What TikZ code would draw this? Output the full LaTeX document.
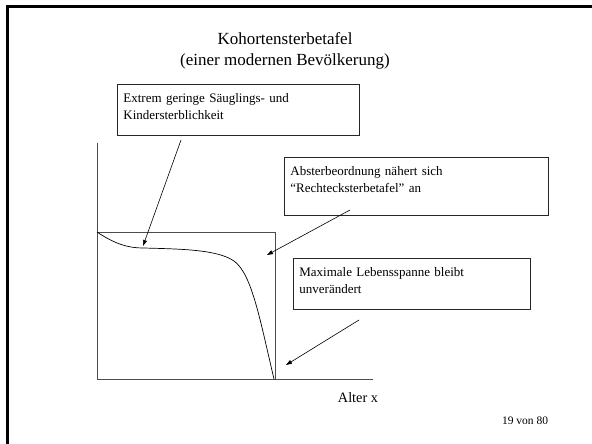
\documentclass[tikz,border=0pt]{standalone}
\usepackage{fontspec}
\setmainfont{Liberation Serif}
\usepackage{tikz}
\usetikzlibrary{arrows.meta, positioning}

\begin{document}
\begin{tikzpicture}[
        x=1pt, y=-1pt,
        notiz/.style={draw=black!85, line width=0.8pt, anchor=north west, align=left,
            inner xsep=6pt, inner ysep=7pt, font=\fontsize{13}{16.5}\selectfont},
        achse/.style={draw=black!70, line width=0.9pt},
        pfeil/.style={-{Triangle[length=6pt,width=4pt]}, line width=0.6pt}
    ]
        \useasboundingbox (0,0) rectangle (592,444);
        % Rahmen
        \draw[line width=2.5pt] (7.5,444) -- (7.5,6.5) -- (592,6.5);

        % Titel
        \node[font=\fontsize{17}{20.5}\selectfont, align=center] (titel) at (285,51)
            {Kohortensterbetafel\\(einer modernen Bevölkerung)};

        % Achsen und Rechteck
        \coordinate (ursprung) at (97,379);
        \coordinate (yende) at (97,143);
        \coordinate (xende) at (373,379);
        \draw[achse] (yende) -- (ursprung) -- (xende);
        \draw[achse] (97,232) -- (275,232) -- (275,379);

        % Kurve
        \draw[line width=0.7pt] (97,232) .. controls (115,244) and (128,248) .. (143,248)
            .. controls (185,249) and (218,250) .. (234,261)
            .. controls (252,274) and (260,320) .. (274,379);

        % Kaesten
        \node[notiz, text width=230pt, text depth=25.4pt, minimum height=51pt] (saeugl) at (117,84)
            {\strut Extrem geringe Säuglings- und\\\strut Kindersterblichkeit};
        \node[notiz, text width=252pt, text depth=32.4pt, minimum height=58pt] (rechteck) at (284,157)
            {\strut Absterbeordnung nähert sich\\\strut “Rechtecksterbetafel” an};
        \node[notiz, text width=225pt, text depth=25.4pt, minimum height=51pt] (spanne) at (293,258)
            {\strut Maximale Lebensspanne bleibt\\\strut unverändert};

        % Pfeile
        \coordinate (p1a) at (181,140);
        \coordinate (p1b) at (143,246);
        \coordinate (p2a) at (350,210);
        \coordinate (p2b) at (267,255);
        \coordinate (p3a) at (359,320);
        \coordinate (p3b) at (286,365);
        \draw[pfeil] (p1a) -- (p1b);
        \draw[pfeil] (p2a) -- (p2b);
        \draw[pfeil] (p3a) -- (p3b);

        % Beschriftung
        \node[font=\fontsize{14.3}{16}\selectfont, anchor=base] (alter) at (358,402) {Alter x};
        \node[font=\fontsize{11.5}{13}\selectfont, anchor=base] (seite) at (525,424) {19 von 80};
    \end{tikzpicture}
\end{document}
